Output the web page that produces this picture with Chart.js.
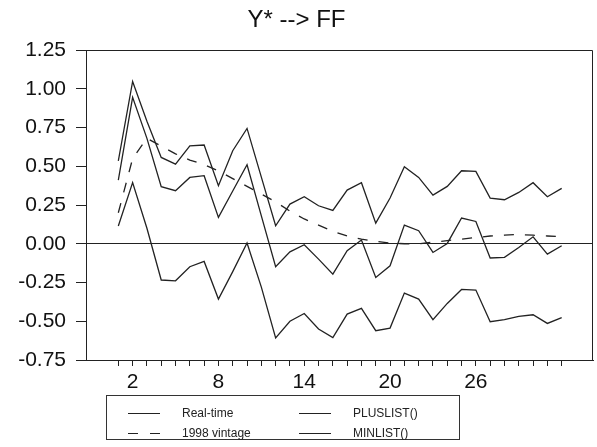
<!DOCTYPE html>
<html>
<head>
<meta charset="utf-8">
<script src="https://cdn.jsdelivr.net/npm/chart.js@4.4.1/dist/chart.umd.min.js"></script>
<style>
  html, body { margin: 0; padding: 0; background: #fff; }
  #wrap { position: relative; width: 597px; height: 447px; }
  #legend { position: absolute; left: 106px; top: 395px; width: 354px; height: 45px;
            border: 1px solid #333; box-sizing: border-box; font-family: 'Liberation Sans', Arial, sans-serif;
            font-size: 12px; color: #222; }
  .item { position: absolute; height: 14px; line-height: 14px; white-space: nowrap; }
  .sample { position: absolute; top: 7px; width: 32px; height: 1px; background: #222; }
  .sample.dash { background: linear-gradient(to right, #222 0 10px, transparent 10px 22px, #222 22px 32px); }
  .txt { position: absolute; left: 54px; top: 0; }
</style>
</head>
<body>
<div id="wrap">
  <canvas id="c" width="597" height="447"></canvas>
  <div id="legend"></div>
</div>
<script>
const chartTitle = 'Y* --> FF';
const periods = [1,2,3,4,5,6,7,8,9,10,11,12,13,14,15,16,17,18,19,20,21,22,23,24,25,26,27,28,29,30,31,32];
const xTickLabels = [2, 8, 14, 20, 26];
const yTickValues = [-0.75, -0.5, -0.25, 0, 0.25, 0.5, 0.75, 1.0, 1.25];
const seriesNames = ['Real-time', '1998 vintage', 'PLUSLIST()', 'MINLIST()'];

const realTime = [0.41, 0.945, 0.68, 0.368, 0.342, 0.428, 0.439, 0.17, 0.34, 0.51, 0.18, -0.148,
  -0.052, -0.006, -0.099, -0.196, -0.045, 0.024, -0.217, -0.142, 0.12, 0.084, -0.056, 0.002,
  0.166, 0.144, -0.092, -0.088, -0.024, 0.045, -0.067, -0.013];
const vintage1998 = [0.20, 0.55, 0.68, 0.63, 0.58, 0.54, 0.51, 0.47, 0.42, 0.37, 0.32, 0.27,
  0.21, 0.16, 0.12, 0.08, 0.05, 0.03, 0.015, 0.005, 0.0, 0.0, 0.01, 0.02,
  0.03, 0.04, 0.05, 0.055, 0.06, 0.055, 0.05, 0.045];
const plusList = [0.535, 1.047, 0.79, 0.557, 0.514, 0.632, 0.637, 0.374, 0.60, 0.744, 0.43, 0.116,
  0.256, 0.303, 0.245, 0.215, 0.346, 0.394, 0.133, 0.295, 0.497, 0.428, 0.314, 0.37,
  0.471, 0.467, 0.295, 0.284, 0.331, 0.394, 0.303, 0.357];
const minList = [0.115, 0.395, 0.10, -0.234, -0.239, -0.148, -0.114, -0.357, -0.18, 0.005, -0.28, -0.608,
  -0.50, -0.45, -0.55, -0.606, -0.454, -0.417, -0.561, -0.544, -0.318, -0.357, -0.49, -0.385,
  -0.295, -0.299, -0.503, -0.49, -0.469, -0.458, -0.514, -0.477];

const FONT = "'Liberation Sans', Arial, Helvetica, sans-serif";
const toPts = arr => arr.map((v, i) => ({ x: periods[i], y: v }));

function ds(label, arr, dash) {
  return {
    label, data: toPts(arr), borderColor: '#222', borderWidth: 1.3,
    borderDash: dash || [], pointRadius: 0, tension: 0, fill: false
  };
}

const framePlugin = {
  id: 'frame',
  afterDraw(chart) {
    const { ctx, chartArea: a } = chart;
    ctx.save();
    ctx.strokeStyle = '#222';
    ctx.lineWidth = 1;
    ctx.beginPath();
    ctx.moveTo(a.left, a.top + 0.5);
    ctx.lineTo(a.right - 0.5, a.top + 0.5);
    ctx.lineTo(a.right - 0.5, a.bottom);
    ctx.stroke();
    ctx.restore();
  }
};

new Chart(document.getElementById('c'), {
  type: 'line',
  data: {
    datasets: [
      ds(seriesNames[0], realTime),
      ds(seriesNames[1], vintage1998, [10, 11]),
      ds(seriesNames[2], plusList),
      ds(seriesNames[3], minList)
    ]
  },
  options: {
    responsive: false,
    animation: false,
    layout: { padding: { left: 0, right: 4, top: 0, bottom: 57 } },
    plugins: {
      legend: { display: false },
      tooltip: { enabled: false },
      title: {
        display: true, text: chartTitle, color: '#111',
        font: { family: FONT, size: 24, weight: 'normal', lineHeight: 1.2 },
        padding: { top: 6, bottom: 15.2 }
      }
    },
    scales: {
      x: {
        type: 'linear', min: -1.26, max: 34.19,
        afterBuildTicks: s => { s.ticks = periods.map(v => ({ value: v })); },
        afterFit: s => { s.height = 30; },
        ticks: {
          autoSkip: false, maxRotation: 0, minRotation: 0, padding: 4, color: '#111',
          font: { family: FONT, size: 21 },
          callback: v => xTickLabels.includes(v) ? String(v) : ''
        },
        grid: { drawOnChartArea: false, drawTicks: true, tickLength: 6, tickColor: '#222', tickWidth: 1 },
        border: { display: true, color: '#222', width: 1 }
      },
      y: {
        type: 'linear', min: -0.75, max: 1.25,
        afterBuildTicks: s => { s.ticks = yTickValues.map(v => ({ value: v })); },
        afterFit: s => { s.width = 86; },
        ticks: {
          padding: 10, color: '#111', font: { family: FONT, size: 21 },
          callback: v => Number(v).toFixed(2)
        },
        grid: {
          color: c => (c.tick && c.tick.value === 0) ? '#222' : 'rgba(0,0,0,0)',
          lineWidth: 1, drawTicks: true, tickLength: 10, tickColor: '#222', tickWidth: 1
        },
        border: { display: true, color: '#222', width: 1 }
      }
    }
  },
  plugins: [framePlugin]
});

// Legend (two columns: Real-time / 1998 vintage | PLUSLIST() / MINLIST())
const legend = document.getElementById('legend');
const layout = [
  { name: seriesNames[0], dash: false, left: 21, top: 10 },
  { name: seriesNames[1], dash: true, left: 21, top: 30 },
  { name: seriesNames[2], dash: false, left: 192, top: 10 },
  { name: seriesNames[3], dash: false, left: 192, top: 30 }
];
layout.forEach(it => {
  const d = document.createElement('div');
  d.className = 'item';
  d.style.left = it.left + 'px';
  d.style.top = it.top + 'px';
  d.style.width = '150px';
  const s = document.createElement('div');
  s.className = 'sample' + (it.dash ? ' dash' : '');
  s.style.left = '0px';
  const t = document.createElement('span');
  t.className = 'txt';
  t.textContent = it.name;
  d.appendChild(s);
  d.appendChild(t);
  legend.appendChild(d);
});
</script>
</body>
</html>
